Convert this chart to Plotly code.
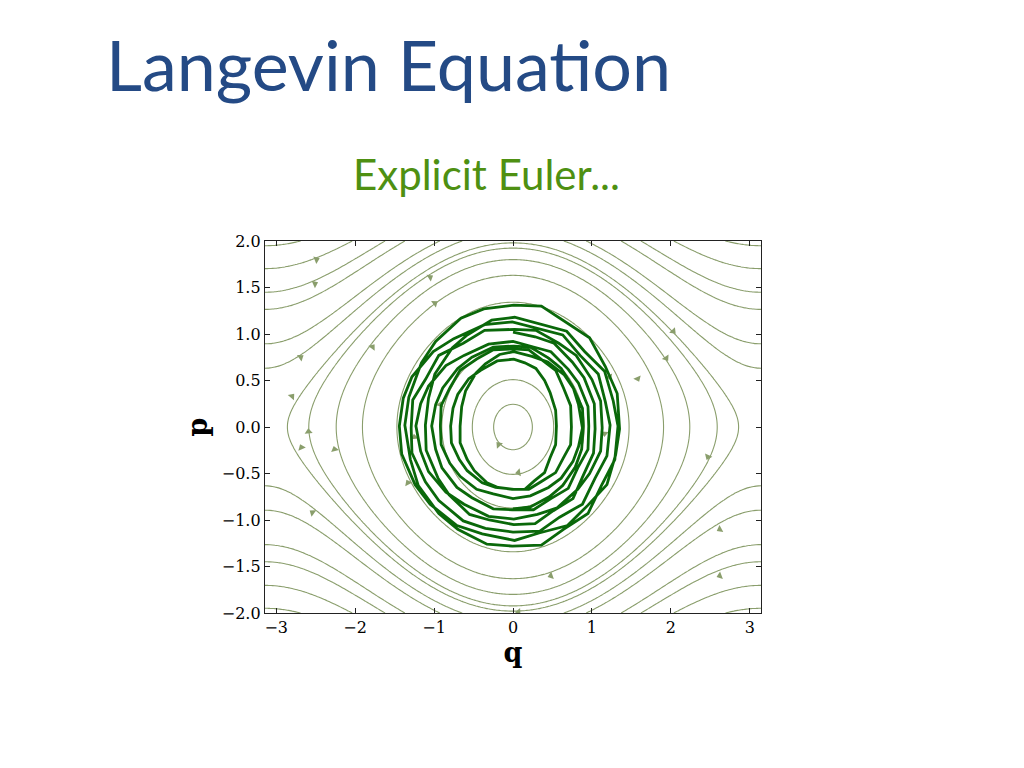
import numpy as np
import plotly.graph_objects as go

# ---------------- data ----------------
title_main = "Langevin Equation"
title_sub = "Explicit Euler..."
x_label = "q"
y_label = "p"
x_ticks = [-3, -2, -1, 0, 1, 2, 3]
y_ticks = [-2.0, -1.5, -1.0, -0.5, 0.0, 0.5, 1.0, 1.5, 2.0]

# energy levels H = p^2/2 - cos(q) of the drawn streamlines
stream_levels = [-0.97, -0.87, -0.62, -0.1, 0.33, 0.62, 0.85, 0.96,
                 1.2, 1.4, 1.8, 2.05, 2.45, 2.9]

# arrow heads on the streamlines (q, p)
arrow_q = [-2.49, -2.51, -1.05, -0.99, -1.78, -2.69, -2.80, -2.59, -2.68, -2.26,
           -2.54, -1.33, -1.25, -0.92, -0.18, 0.07, 0.48, 0.07, 2.62, 2.62,
           2.47, 2.03, 1.94, 1.58, 1.16, 1.22]
arrow_p = [1.80, 1.54, 1.61, 1.33, 0.86, 0.75, 0.33, -0.05, -0.22, -0.24,
           -0.92, -0.60, -0.11, 0.24, -0.19, -0.49, -1.60, -1.99, -1.10, -1.60,
           -0.32, 1.03, 0.74, 0.52, -0.07, 0.54]

# noisy explicit-Euler Langevin trajectory (q, p)
trajectory = [
    (0.00, 1.02), (0.28, 0.97), (0.52, 0.90), (0.75, 0.70), (0.90, 0.53), (1.03, 0.25),
    (1.04, -0.02), (1.02, -0.28), (0.89, -0.52), (0.76, -0.77), (0.51, -0.90), (0.28, -1.04),
    (0.01, -1.05), (-0.30, -1.00), (-0.55, -0.94), (-0.81, -0.73), (-0.95, -0.55), (-1.10, -0.25),
    (-1.11, 0.02), (-1.07, 0.31), (-0.99, 0.57), (-0.77, 0.85), (-0.58, 0.99), (-0.27, 1.15),
    (0.02, 1.18), (0.33, 1.11), (0.68, 1.03), (0.91, 0.81), (1.16, 0.60), (1.27, 0.28),
    (1.33, 0.01), (1.29, -0.35), (1.12, -0.63), (0.95, -0.93), (0.64, -1.10), (0.36, -1.27),
    (-0.01, -1.28), (-0.33, -1.26), (-0.70, -1.10), (-0.94, -0.93), (-1.20, -0.63), (-1.30, -0.35),
    (-1.37, 0.02), (-1.32, 0.32), (-1.16, 0.69), (-0.98, 0.92), (-0.66, 1.17), (-0.37, 1.27),
    (0.01, 1.31), (0.36, 1.30), (0.67, 1.13), (0.97, 0.96), (1.17, 0.65), (1.32, 0.36),
    (1.35, -0.02), (1.30, -0.30), (1.19, -0.62), (0.95, -0.84), (0.69, -1.06), (0.33, -1.14),
    (0.02, -1.22), (-0.39, -1.15), (-0.71, -1.06), (-1.05, -0.83), (-1.24, -0.62), (-1.41, -0.29),
    (-1.44, 0.01), (-1.39, 0.31), (-1.28, 0.54), (-1.01, 0.81), (-0.75, 0.95), (-0.36, 1.10),
    (-0.01, 1.13), (0.31, 1.06), (0.63, 0.99), (0.85, 0.77), (1.08, 0.57), (1.17, 0.27),
    (1.23, 0.02), (1.19, -0.31), (1.04, -0.55), (0.88, -0.83), (0.59, -0.97), (0.34, -1.12),
    (0.00, -1.13), (-0.35, -1.09), (-0.63, -1.01), (-0.94, -0.79), (-1.11, -0.59), (-1.28, -0.28),
    (-1.29, -0.01), (-1.27, 0.29), (-1.11, 0.51), (-0.94, 0.77), (-0.63, 0.90), (-0.36, 1.04),
    (0.02, 1.05), (0.29, 1.04), (0.58, 0.90), (0.80, 0.77), (1.00, 0.51), (1.11, 0.28),
    (1.13, -0.01), (1.11, -0.26), (0.97, -0.50), (0.82, -0.67), (0.56, -0.87), (0.31, -0.94),
    (0.01, -0.99), (-0.31, -0.96), (-0.62, -0.83), (-0.85, -0.70), (-1.07, -0.48), (-1.17, -0.26),
    (-1.23, 0.01), (-1.17, 0.25), (-1.07, 0.44), (-0.85, 0.66), (-0.62, 0.77), (-0.31, 0.89),
    (0.00, 0.92), (0.26, 0.86), (0.48, 0.81), (0.70, 0.62), (0.83, 0.47), (0.95, 0.22),
    (0.96, 0.01), (0.95, -0.24), (0.82, -0.44), (0.70, -0.66), (0.48, -0.77), (0.26, -0.89),
    (-0.01, -0.89), (-0.25, -0.88), (-0.52, -0.76), (-0.71, -0.65), (-0.90, -0.44), (-0.98, -0.24),
    (-1.03, 0.01), (-0.98, 0.24), (-0.89, 0.42), (-0.70, 0.63), (-0.52, 0.75), (-0.25, 0.86),
    (0.01, 0.87), (0.22, 0.86), (0.45, 0.74), (0.61, 0.63), (0.76, 0.43), (0.83, 0.24),
    (0.88, -0.01), (0.83, -0.21), (0.76, -0.37), (0.61, -0.55), (0.45, -0.65), (0.22, -0.74),
    (0.00, -0.77), (-0.25, -0.72), (-0.46, -0.67), (-0.67, -0.53), (-0.80, -0.39), (-0.91, -0.19),
    (-0.92, 0.01), (-0.91, 0.23), (-0.80, 0.42), (-0.67, 0.61), (-0.46, 0.73), (-0.25, 0.83),
    (0.00, 0.84), (0.20, 0.83), (0.37, 0.72), (0.54, 0.61), (0.64, 0.42), (0.73, 0.23),
    (0.74, 0.00), (0.73, -0.19), (0.64, -0.33), (0.54, -0.49), (0.37, -0.58), (0.20, -0.67),
    (0.01, -0.67), (-0.22, -0.65), (-0.39, -0.60), (-0.58, -0.47), (-0.68, -0.35), (-0.78, -0.17),
    (-0.79, 0.01), (-0.76, 0.20), (-0.70, 0.35), (-0.56, 0.52), (-0.41, 0.61), (-0.20, 0.71),
    (0.01, 0.73), (0.15, 0.69), (0.29, 0.63), (0.40, 0.50), (0.47, 0.37), (0.54, 0.18),
    (0.55, 0.01), (0.54, -0.19), (0.47, -0.33), (0.40, -0.49), (0.27, -0.58), (0.15, -0.67),
    (-0.01, -0.67), (-0.19, -0.65), (-0.33, -0.60), (-0.49, -0.47), (-0.58, -0.35), (-0.67, -0.17),
    (-0.67, 0.01), (-0.65, 0.22), (-0.60, 0.39), (-0.47, 0.58), (-0.35, 0.68), (-0.17, 0.78),
    (0.01, 0.81), (0.24, 0.76), (0.44, 0.70), (0.65, 0.56), (0.77, 0.41), (0.88, 0.20),
    (0.89, 0.01), (0.87, -0.24), (0.79, -0.43), (0.63, -0.63), (0.46, -0.75), (0.22, -0.86),
    (0.00, -0.88),
]
traj_q = [pt[0] for pt in trajectory]
traj_p = [pt[1] for pt in trajectory]

# ---------------- styles ----------------
STREAM_COLOR = "rgb(138,158,108)"
TRAJ_COLOR = "#0a680a"
AX_FONT = "DejaVu Serif, Liberation Serif, serif"

# field of the pendulum Hamiltonian H(q,p) = p^2/2 - cos q on a grid
qg = np.linspace(-np.pi, np.pi, 201).astype(np.float32)
pg = np.linspace(-2.0, 2.0, 161).astype(np.float32)
QQ, PP = np.meshgrid(qg, pg)
HH = (0.5 * PP ** 2 - np.cos(QQ)).astype(np.float32)

fig = go.Figure()
for lvl in stream_levels:
    fig.add_trace(go.Contour(
        x=qg, y=pg, z=HH,
        autocontour=False,
        contours=dict(start=lvl, end=lvl, size=1.0, coloring="lines"),
        colorscale=[[0, STREAM_COLOR], [1, STREAM_COLOR]],
        line=dict(width=1.1, smoothing=1.0),
        showscale=False, hoverinfo="skip", showlegend=False,
    ))

# arrow directions from the field, in screen space
sx = 496 / (2 * np.pi)
sy = 372 / 4.0
aq = np.array(arrow_q)
ap = np.array(arrow_p)
angles = np.degrees(np.arctan2(ap * sx, -np.sin(aq) * sy))
fig.add_trace(go.Scatter(
    x=arrow_q, y=arrow_p, mode="markers",
    marker=dict(symbol="triangle-up", size=7, color=STREAM_COLOR, angle=angles.tolist(),
                line=dict(width=0)),
    hoverinfo="skip", showlegend=False,
))

fig.add_trace(go.Scatter(
    x=traj_q, y=traj_p, mode="lines",
    line=dict(color=TRAJ_COLOR, width=2.8),
    hoverinfo="skip", showlegend=False,
))

OFF = 8  # page body margin
W, H = 1024, 768
L, T = 265 - OFF, 241 - OFF
pw, ph = 496, 372
R, B = W - L - pw, H - T - ph


def px(x):
    return (x - OFF - L) / pw


def py(y):
    return (T + ph - (y - OFF)) / ph


fig.add_annotation(text=title_main, xref="paper", yref="paper", x=px(388), y=py(64),
                   showarrow=False, xanchor="center", yanchor="middle",
                   font=dict(family="Lato, Open Sans, sans-serif", size=70, color="#244a85"))
fig.add_annotation(text=title_sub, xref="paper", yref="paper", x=px(486), y=py(174),
                   showarrow=False, xanchor="center", yanchor="middle",
                   font=dict(family="Lato, Open Sans, sans-serif", size=42, color="#4e9012"))

axis_common = dict(
    showgrid=False, zeroline=False, showline=True, linecolor="#222", linewidth=1.3,
    mirror="ticks", ticks="inside", ticklen=5, tickwidth=1, tickcolor="#222",
    tickfont=dict(family=AX_FONT, size=16, color="black"),
)
fig.update_xaxes(range=[-np.pi, np.pi], tickvals=x_ticks, **axis_common,
                 title=dict(text="<b>%s</b>" % x_label, standoff=5,
                            font=dict(family=AX_FONT, size=27, color="black")))
fig.update_yaxes(range=[-2.0, 2.0], tickvals=y_ticks, tickformat=".1f", **axis_common,
                 title=dict(text="<b>%s</b>" % y_label, standoff=6,
                            font=dict(family=AX_FONT, size=27, color="black")))

fig.update_layout(
    width=W, height=H, margin=dict(l=L, r=R, t=T, b=B, autoexpand=False),
    paper_bgcolor="white", plot_bgcolor="white",
)
fig.write_html("out.html")
